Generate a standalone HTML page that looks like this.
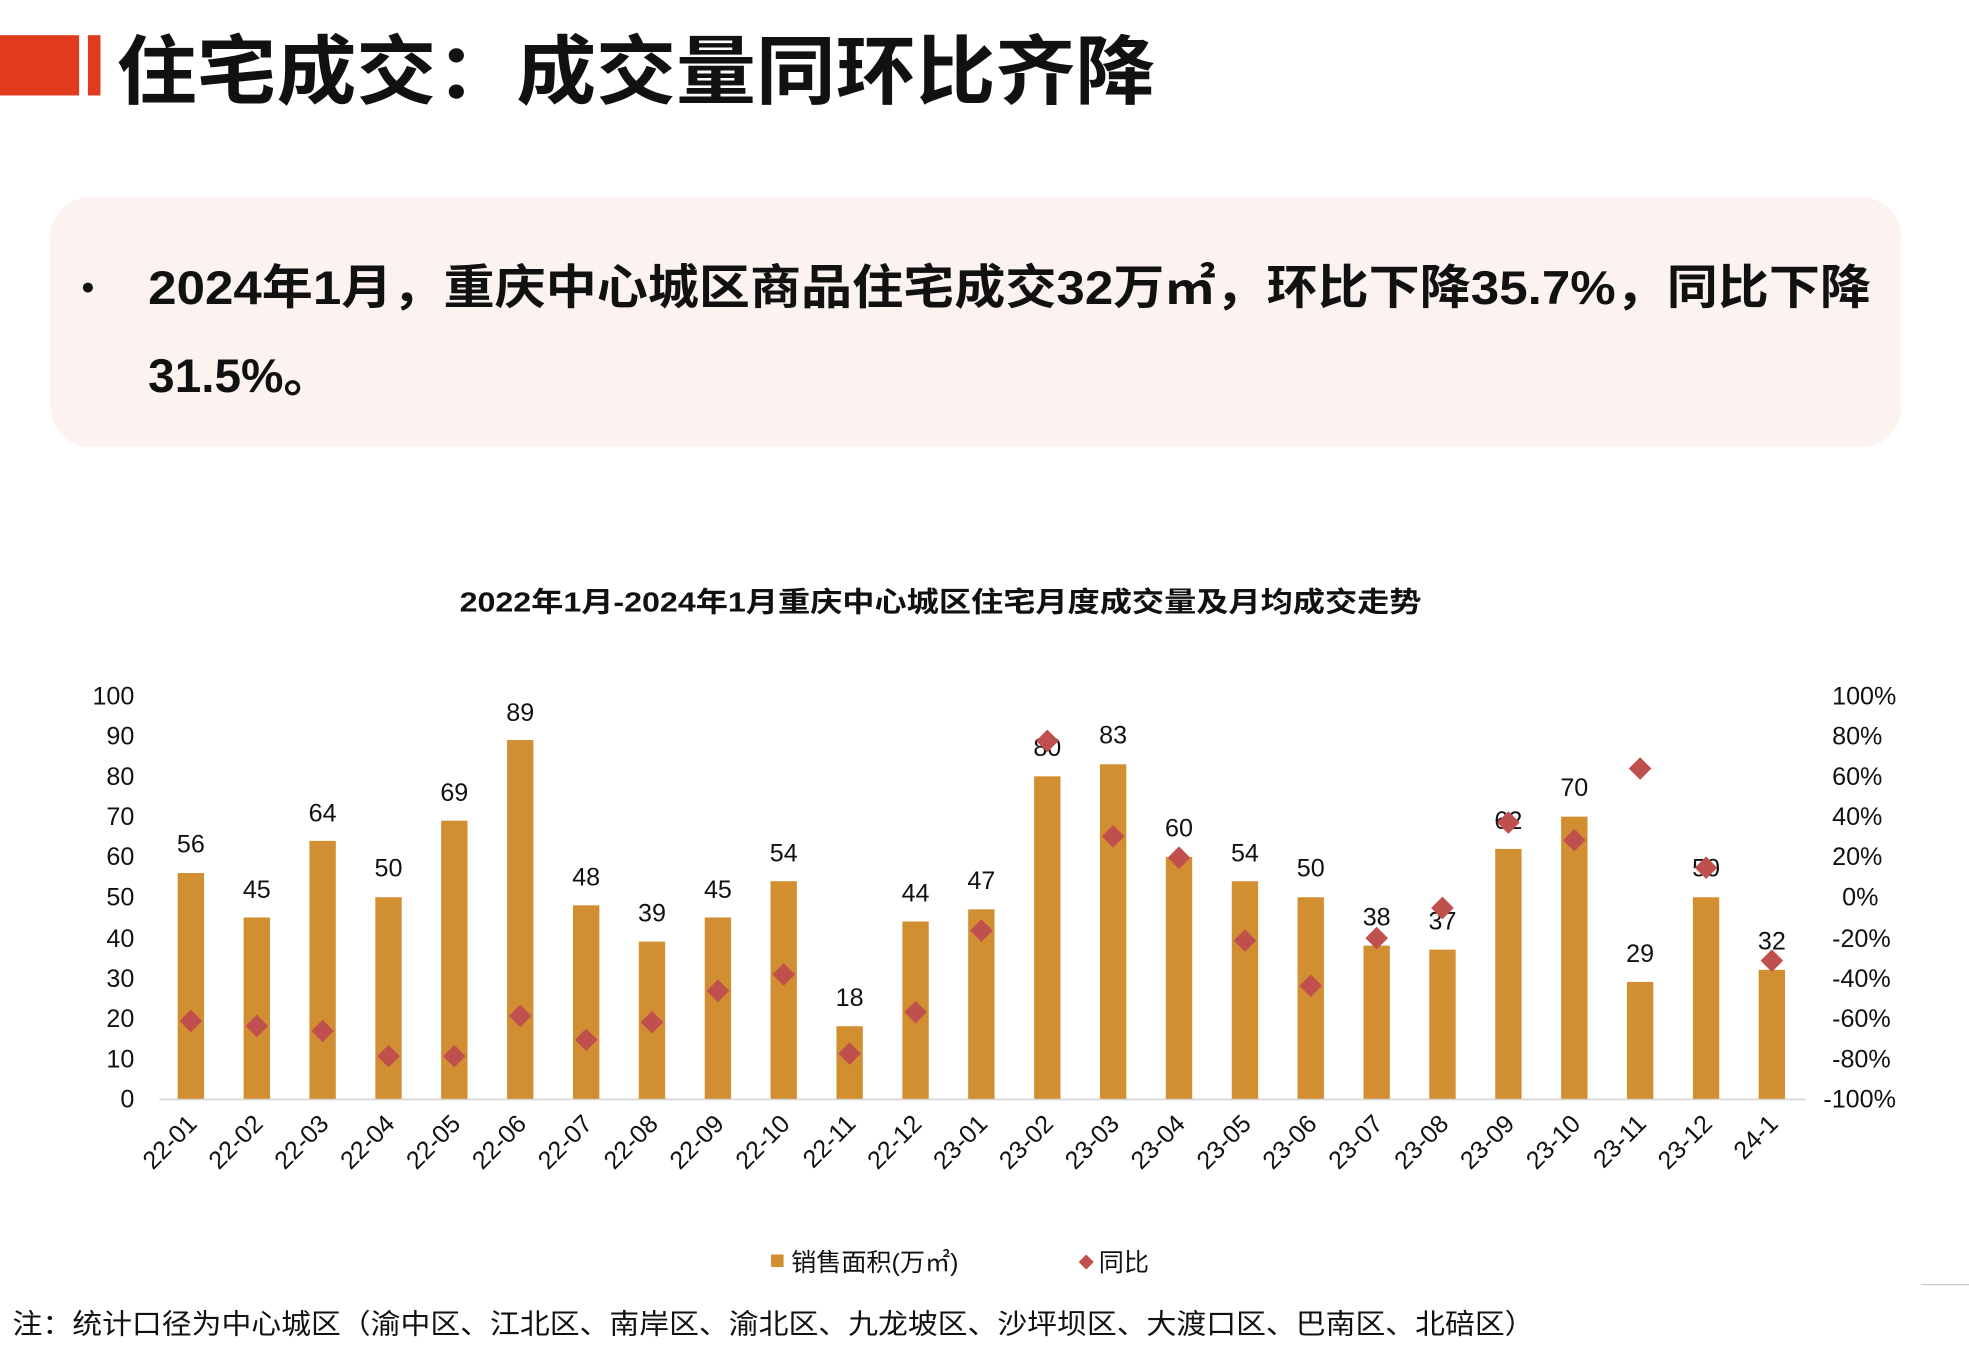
<!DOCTYPE html>
<html><head><meta charset="utf-8"><style>
html,body{margin:0;padding:0;background:#fff;}
svg{display:block;}
text{font-family:"Liberation Sans","Noto Sans CJK SC",sans-serif;}
</style></head><body>
<svg width="1969" height="1350" viewBox="0 0 1568 1075" xmlns="http://www.w3.org/2000/svg">
<rect x="0" y="28" width="63" height="48" fill="#e03a1f"/>
<rect x="70" y="28" width="10" height="48" fill="#e03a1f"/>
<text x="93" y="78" font-size="60" font-weight="bold" fill="#111" textLength="827" lengthAdjust="spacingAndGlyphs">住宅成交：成交量同环比齐降</text>
<rect x="40" y="157" width="1474" height="199" rx="32" fill="#fcf3f1"/>
<circle cx="70" cy="229" r="4" fill="#111"/>
<text x="118" y="242" font-size="38" font-weight="bold" fill="#111" textLength="1372" lengthAdjust="spacingAndGlyphs">2024年1月，重庆中心城区商品住宅成交32万㎡，环比下降35.7%，同比下降</text>
<text x="118" y="312" font-size="38" font-weight="bold" fill="#111">31.5%。</text>
<text x="366" y="487" font-size="22" font-weight="bold" fill="#111" textLength="766" lengthAdjust="spacingAndGlyphs">2022年1月-2024年1月重庆中心城区住宅月度成交量及月均成交走势</text>
<g font-size="20" fill="#111" text-anchor="end">
<text x="107" y="561">100</text><text x="107" y="593">90</text><text x="107" y="625">80</text><text x="107" y="657">70</text><text x="107" y="689">60</text><text x="107" y="721">50</text><text x="107" y="754">40</text><text x="107" y="786">30</text><text x="107" y="818">20</text><text x="107" y="850">10</text><text x="107" y="882">0</text>
</g>
<g font-size="20" fill="#111">
<text x="1459" y="561">100%</text><text x="1459" y="593">80%</text><text x="1459" y="625">60%</text><text x="1459" y="657">40%</text><text x="1459" y="689">20%</text><text x="1467" y="721">0%</text><text x="1459" y="754">-20%</text><text x="1459" y="786">-40%</text><text x="1459" y="818">-60%</text><text x="1459" y="850">-80%</text><text x="1452" y="882">-100%</text>
</g>
<line x1="127" y1="875.5" x2="1438" y2="875.5" stroke="#d9d9d9" stroke-width="1.5"/>
<g fill="#d18f32">
<rect x="141.5" y="695.2" width="21" height="179.8"/>
<rect x="194" y="730.6" width="21" height="144.4"/>
<rect x="246.4" y="669.6" width="21" height="205.4"/>
<rect x="298.9" y="714.5" width="21" height="160.5"/>
<rect x="351.3" y="653.5" width="21" height="221.5"/>
<rect x="403.8" y="589.3" width="21" height="285.7"/>
<rect x="456.3" y="720.9" width="21" height="154.1"/>
<rect x="508.7" y="749.8" width="21" height="125.2"/>
<rect x="561.2" y="730.6" width="21" height="144.4"/>
<rect x="613.6" y="701.7" width="21" height="173.3"/>
<rect x="666.1" y="817.2" width="21" height="57.8"/>
<rect x="718.6" y="733.8" width="21" height="141.2"/>
<rect x="771" y="724.1" width="21" height="150.9"/>
<rect x="823.5" y="618.2" width="21" height="256.8"/>
<rect x="875.9" y="608.6" width="21" height="266.4"/>
<rect x="928.4" y="682.4" width="21" height="192.6"/>
<rect x="980.9" y="701.7" width="21" height="173.3"/>
<rect x="1033.3" y="714.5" width="21" height="160.5"/>
<rect x="1085.8" y="753" width="21" height="122"/>
<rect x="1138.2" y="756.2" width="21" height="118.8"/>
<rect x="1190.7" y="676" width="21" height="199"/>
<rect x="1243.2" y="650.3" width="21" height="224.7"/>
<rect x="1295.6" y="781.9" width="21" height="93.1"/>
<rect x="1348.1" y="714.5" width="21" height="160.5"/>
<rect x="1400.5" y="772.3" width="21" height="102.7"/>
</g>
<g font-size="20" fill="#111" text-anchor="middle">
<text x="152" y="679">56</text>
<text x="204.5" y="715">45</text>
<text x="256.9" y="654">64</text>
<text x="309.4" y="698">50</text>
<text x="361.8" y="638">69</text>
<text x="414.3" y="574">89</text>
<text x="466.8" y="705">48</text>
<text x="519.2" y="734">39</text>
<text x="571.7" y="715">45</text>
<text x="624.1" y="686">54</text>
<text x="676.6" y="801">18</text>
<text x="729.1" y="718">44</text>
<text x="781.5" y="708">47</text>
<text x="834" y="602">80</text>
<text x="886.4" y="592">83</text>
<text x="938.9" y="666">60</text>
<text x="991.4" y="686">54</text>
<text x="1043.8" y="698">50</text>
<text x="1096.3" y="737">38</text>
<text x="1148.7" y="740">37</text>
<text x="1201.2" y="660">62</text>
<text x="1253.7" y="634">70</text>
<text x="1306.1" y="766">29</text>
<text x="1358.6" y="698">50</text>
<text x="1411" y="756">32</text>
</g>
<g fill="#c0504d">
<polygon points="152,804 161,813 152,822 143,813"/>
<polygon points="204.5,808 213.5,817 204.5,826 195.5,817"/>
<polygon points="256.9,812 265.9,821 256.9,830 247.9,821"/>
<polygon points="309.4,832 318.4,841 309.4,850 300.4,841"/>
<polygon points="361.8,832 370.8,841 361.8,850 352.8,841"/>
<polygon points="414.3,800 423.3,809 414.3,818 405.3,809"/>
<polygon points="466.8,819 475.8,828 466.8,837 457.8,828"/>
<polygon points="519.2,805 528.2,814 519.2,823 510.2,814"/>
<polygon points="571.7,780 580.7,789 571.7,798 562.7,789"/>
<polygon points="624.1,767 633.1,776 624.1,785 615.1,776"/>
<polygon points="676.6,830 685.6,839 676.6,848 667.6,839"/>
<polygon points="729.1,797 738.1,806 729.1,815 720.1,806"/>
<polygon points="781.5,732 790.5,741 781.5,750 772.5,741"/>
<polygon points="834,581 843,590 834,599 825,590"/>
<polygon points="886.4,657 895.4,666 886.4,675 877.4,666"/>
<polygon points="938.9,674 947.9,683 938.9,692 929.9,683"/>
<polygon points="991.4,740 1000.4,749 991.4,758 982.4,749"/>
<polygon points="1043.8,776 1052.8,785 1043.8,794 1034.8,785"/>
<polygon points="1096.3,738 1105.3,747 1096.3,756 1087.3,747"/>
<polygon points="1148.7,714 1157.7,723 1148.7,732 1139.7,723"/>
<polygon points="1201.2,646 1210.2,655 1201.2,664 1192.2,655"/>
<polygon points="1253.7,660 1262.7,669 1253.7,678 1244.7,669"/>
<polygon points="1306.1,603 1315.1,612 1306.1,621 1297.1,612"/>
<polygon points="1358.6,682 1367.6,691 1358.6,700 1349.6,691"/>
<polygon points="1411,756 1420,765 1411,774 1402,765"/>
</g>
<g font-size="20" fill="#111" text-anchor="end">
<text transform="translate(158,896) rotate(-45)">22-01</text>
<text transform="translate(210.5,896) rotate(-45)">22-02</text>
<text transform="translate(262.9,896) rotate(-45)">22-03</text>
<text transform="translate(315.4,896) rotate(-45)">22-04</text>
<text transform="translate(367.8,896) rotate(-45)">22-05</text>
<text transform="translate(420.3,896) rotate(-45)">22-06</text>
<text transform="translate(472.8,896) rotate(-45)">22-07</text>
<text transform="translate(525.2,896) rotate(-45)">22-08</text>
<text transform="translate(577.7,896) rotate(-45)">22-09</text>
<text transform="translate(630.1,896) rotate(-45)">22-10</text>
<text transform="translate(682.6,896) rotate(-45)">22-11</text>
<text transform="translate(735.1,896) rotate(-45)">22-12</text>
<text transform="translate(787.5,896) rotate(-45)">23-01</text>
<text transform="translate(840,896) rotate(-45)">23-02</text>
<text transform="translate(892.4,896) rotate(-45)">23-03</text>
<text transform="translate(944.9,896) rotate(-45)">23-04</text>
<text transform="translate(997.4,896) rotate(-45)">23-05</text>
<text transform="translate(1049.8,896) rotate(-45)">23-06</text>
<text transform="translate(1102.3,896) rotate(-45)">23-07</text>
<text transform="translate(1154.7,896) rotate(-45)">23-08</text>
<text transform="translate(1207.2,896) rotate(-45)">23-09</text>
<text transform="translate(1259.7,896) rotate(-45)">23-10</text>
<text transform="translate(1312.1,896) rotate(-45)">23-11</text>
<text transform="translate(1364.6,896) rotate(-45)">23-12</text>
<text transform="translate(1417,896) rotate(-45)">24-1</text>
</g>
<g font-size="20" fill="#111">
<rect x="614" y="999" width="10" height="10" fill="#d18f32"/>
<text x="630" y="1012">销售面积(万㎡)</text>
<polygon points="865,999 871,1005 865,1011 859,1005" fill="#c0504d"/>
<text x="875" y="1012">同比</text>
<text x="10" y="1062" font-size="22" textLength="1212" lengthAdjust="spacingAndGlyphs">注：统计口径为中心城区（渝中区、江北区、南岸区、渝北区、九龙坡区、沙坪坝区、大渡口区、巴南区、北碚区）</text>
</g>
<line x1="1530" y1="1023" x2="1568" y2="1023" stroke="#ccc"/>
</svg>
</body></html>
